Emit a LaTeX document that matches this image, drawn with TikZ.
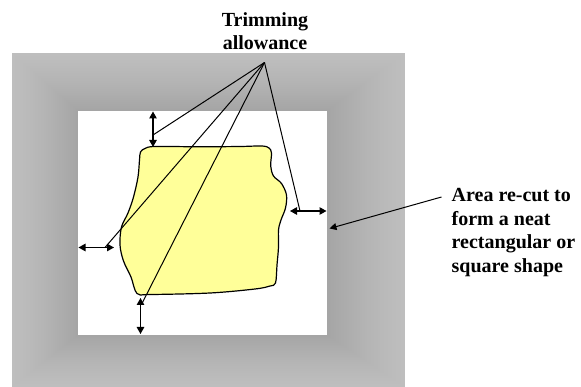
\documentclass[tikz,border=0pt]{standalone}
\usepackage{fontspec}
\setmainfont{Liberation Serif}
\usetikzlibrary{arrows.meta}
\definecolor{blobfill}{RGB}{255,255,153}
\tikzset{
  dimarrow/.style={line width=1.2pt,{Triangle[length=7pt,width=7.5pt]}-{Triangle[length=7pt,width=7.5pt]}},
  leader/.style={line width=1pt},
  pointer/.style={line width=1pt,-{Triangle[length=7pt,width=7pt]}},
  label/.style={font=\fontsize{20}{23.5}\selectfont\bfseries,inner sep=0pt}
}
\begin{document}
\begin{tikzpicture}[x=1pt,y=-1pt]
\useasboundingbox (0,0) rectangle (581,387);
\fill[white] (0,0) rectangle (581,387);
% graded grey frame
\foreach \i in {0,...,60}{
  \pgfmathsetmacro{\t}{\i/60}
  \pgfmathsetmacro{\v}{74.5-10*(\t)^1.3}
  \fill[white!\v!black] ({12+66*\t},{53+58*\t}) rectangle ({405-78*\t},{387-52*\t});
}
\fill[white] (78,111) rectangle (327,335);
% blob
\draw[line width=1.2pt,fill=blobfill] plot[smooth cycle,tension=0.55] coordinates {
(145,148.5) (155,146.5) (200,146.8) (240,146.5) (262,146) (269,148) (271.5,153)
(270.7,166) (273.5,176) (281.5,183.5) (286.5,195) (285.5,208) (281,220) (278.5,230)
(278.5,247) (277,265) (275.5,283) (270,286) (255,289) (210,293) (150,294.5) (137,293.5)
(131,277) (123.5,261) (120,245) (121.5,227) (128,213) (133.5,197) (138,177) (139.5,160) (140.5,152)};
% coordinates
\coordinate (apex) at (264.5,62.5);
\coordinate (ta1) at (153,111.5); \coordinate (ta2) at (153,147);
\coordinate (tl) at (153,135);
\coordinate (la1) at (78.5,247.5); \coordinate (la2) at (114,247.5);
\coordinate (ll) at (105,247.5);
\coordinate (ba1) at (140.5,298); \coordinate (ba2) at (140.5,334);
\coordinate (bl) at (142.5,302.5);
\coordinate (ra1) at (290,211); \coordinate (ra2) at (326.5,211);
\coordinate (rl) at (300,211);
% dimension arrows
\draw[dimarrow] (ta1) -- (ta2);
\draw[dimarrow] (la1) -- (la2);
\draw[dimarrow] (ba1) -- (ba2);
\draw[dimarrow] (ra1) -- (ra2);
% leaders
\draw[leader] (apex) -- (tl);
\draw[leader] (apex) -- (ll);
\draw[leader] (apex) -- (bl);
\draw[leader] (apex) -- (rl);
% texts
\node[label,align=center,anchor=north] (trim) at (265,12) {Trimming\\allowance};
\node[label,align=left,anchor=north west] (area) at (451.5,188.5) {Area re-cut to\\form a neat\\rectangular or\\square shape};
\coordinate (ps) at (441.5,197);
\coordinate (pe) at (329.5,228.5);
\draw[pointer] (ps) -- (pe);
\end{tikzpicture}
\end{document}
